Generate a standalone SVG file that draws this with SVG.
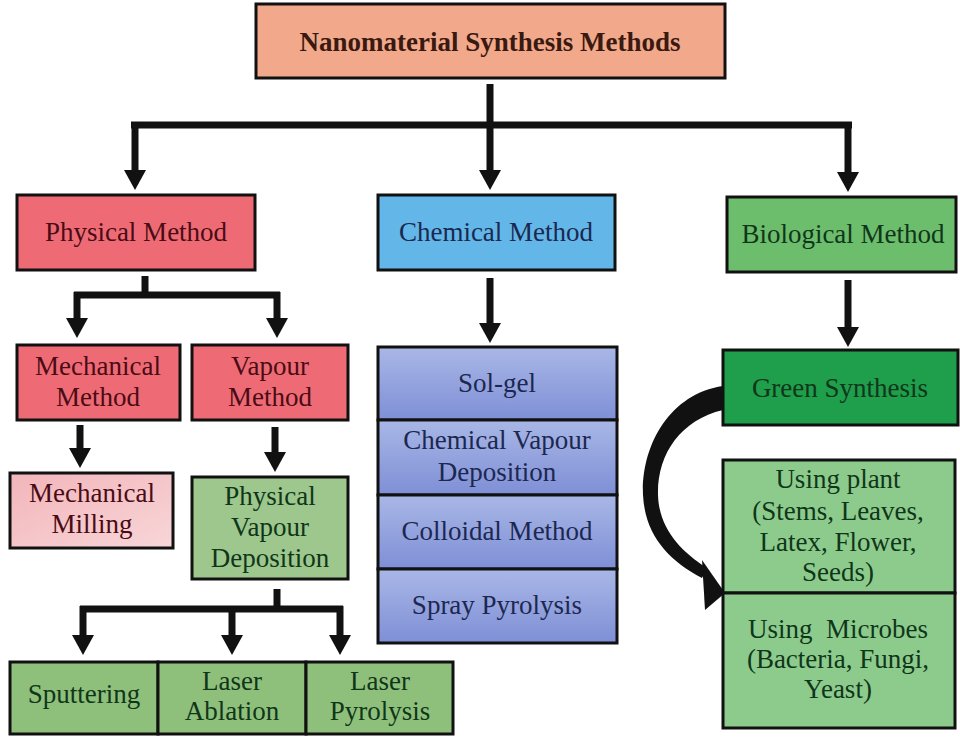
<svg xmlns="http://www.w3.org/2000/svg" width="960" height="738" viewBox="0 0 960 738">
<style>
.box{stroke:#111;stroke-width:3}
.t{font-family:"Liberation Serif","Times New Roman",serif;font-size:27px;text-anchor:middle}
.red{fill:#EE6B76}
.rt{fill:#4a0c14}
.bt{fill:#1c2850}
.gt{fill:#10361a}
.ln{stroke:#111;stroke-width:7;fill:none}
</style>
<defs>
<marker id="ah" markerUnits="userSpaceOnUse" viewBox="0 0 20 22" markerWidth="20" markerHeight="22" refX="0" refY="11" orient="auto">
<path d="M0,0 L20,11 L0,22 Z" fill="#111"/>
</marker>
<linearGradient id="blue" x1="0" y1="0" x2="0" y2="1">
<stop offset="0" stop-color="#A9B7E6"/>
<stop offset="1" stop-color="#7E8FD6"/>
</linearGradient>
<linearGradient id="pink" x1="0" y1="0" x2="1" y2="1">
<stop offset="0" stop-color="#F2B5BA"/>
<stop offset="1" stop-color="#F8D6D8"/>
</linearGradient>
</defs>

<g id="connectors">
<line class="ln" x1="490" y1="84" x2="490" y2="170" marker-end="url(#ah)"/>
<line class="ln" x1="131" y1="125" x2="852" y2="125"/>
<line class="ln" x1="135" y1="122" x2="135" y2="170" marker-end="url(#ah)"/>
<line class="ln" x1="848" y1="122" x2="848" y2="172" marker-end="url(#ah)"/>

<line class="ln" x1="145" y1="276" x2="145" y2="298"/>
<line class="ln" x1="74" y1="295" x2="280" y2="295"/>
<line class="ln" x1="77" y1="292" x2="77" y2="318" marker-end="url(#ah)"/>
<line class="ln" x1="277" y1="292" x2="277" y2="318" marker-end="url(#ah)"/>

<line class="ln" x1="80" y1="425" x2="80" y2="448" marker-end="url(#ah)"/>
<line class="ln" x1="275" y1="427" x2="275" y2="452" marker-end="url(#ah)"/>

<line class="ln" x1="277" y1="589" x2="277" y2="612"/>
<line class="ln" x1="80" y1="609" x2="343" y2="609"/>
<line class="ln" x1="83" y1="606" x2="83" y2="635" marker-end="url(#ah)"/>
<line class="ln" x1="232" y1="606" x2="232" y2="635" marker-end="url(#ah)"/>
<line class="ln" x1="340" y1="606" x2="340" y2="635" marker-end="url(#ah)"/>

<line class="ln" x1="490" y1="278" x2="490" y2="323" marker-end="url(#ah)"/>
<line class="ln" x1="848" y1="280" x2="848" y2="327" marker-end="url(#ah)"/>

<path d="M723,386 C668,394 641,448 643,495 C645,535 668,560 702,578 L707,568 C680,551 659,528 658,495 C657,455 680,420 723,410 Z" fill="#111"/>
<polygon points="702,560 725,593 705,610" fill="#111"/>
</g>

<g id="title">
<rect class="box" x="256" y="4" width="469" height="74" fill="#F2A98B"/>
<text class="t" x="490" y="51" font-weight="bold" font-size="28" fill="#3a1a10">Nanomaterial Synthesis Methods</text>
</g>

<g id="physical">
<rect class="box red" x="17" y="195" width="238" height="75"/>
<text class="t rt" x="136" y="241">Physical Method</text>
</g>

<g id="chemical">
<rect class="box" x="378" y="195" width="237" height="75" fill="#62B7E8"/>
<text class="t bt" x="496" y="241">Chemical Method</text>
</g>

<g id="biological">
<rect class="box" x="727" y="197" width="229" height="75" fill="#6CBD6C"/>
<text class="t gt" x="843" y="243">Biological Method</text>
</g>

<g id="mechanical">
<rect class="box red" x="17" y="345" width="163" height="75"/>
<text class="t rt" x="98" y="375">Mechanical</text>
<text class="t rt" x="98" y="406">Method</text>
</g>

<g id="vapour">
<rect class="box red" x="192" y="345" width="156" height="75"/>
<text class="t rt" x="270" y="375">Vapour</text>
<text class="t rt" x="270" y="406">Method</text>
</g>

<g id="milling">
<rect class="box" x="10" y="473" width="163" height="75" fill="url(#pink)"/>
<text class="t rt" x="92" y="502">Mechanical</text>
<text class="t rt" x="92" y="533">Milling</text>
</g>

<g id="pvd">
<rect class="box" x="192" y="477" width="156" height="102" fill="#9DC78C"/>
<text class="t gt" x="270" y="505">Physical</text>
<text class="t gt" x="270" y="536">Vapour</text>
<text class="t gt" x="270" y="567">Deposition</text>
</g>

<g id="sputtering">
<rect class="box" x="10" y="662" width="148" height="72" fill="#8EC07B"/>
<text class="t gt" x="84" y="703">Sputtering</text>
</g>
<g id="laser-ablation">
<rect class="box" x="158" y="662" width="148" height="72" fill="#8EC07B"/>
<text class="t gt" x="232" y="690">Laser</text>
<text class="t gt" x="232" y="720">Ablation</text>
</g>
<g id="laser-pyrolysis">
<rect class="box" x="306" y="662" width="147" height="72" fill="#8EC07B"/>
<text class="t gt" x="380" y="690">Laser</text>
<text class="t gt" x="380" y="720">Pyrolysis</text>
</g>

<g id="sol-gel">
<rect class="box" x="378" y="347" width="239" height="73" fill="url(#blue)"/>
<text class="t bt" x="497" y="392">Sol-gel</text>
</g>
<g id="cvd">
<rect class="box" x="378" y="420" width="239" height="75" fill="url(#blue)"/>
<text class="t bt" x="497" y="449">Chemical Vapour</text>
<text class="t bt" x="497" y="481">Deposition</text>
</g>
<g id="colloidal">
<rect class="box" x="378" y="495" width="239" height="74" fill="url(#blue)"/>
<text class="t bt" x="497" y="540">Colloidal Method</text>
</g>
<g id="spray">
<rect class="box" x="378" y="569" width="239" height="74" fill="url(#blue)"/>
<text class="t bt" x="497" y="614">Spray Pyrolysis</text>
</g>

<g id="green-synthesis">
<rect class="box" x="723" y="350" width="235" height="75" fill="#1F9E4B"/>
<text class="t gt" x="840" y="397">Green Synthesis</text>
</g>

<g id="plant">
<rect class="box" x="723" y="460" width="232" height="133" fill="#8DCB8D"/>
<text class="t gt" x="838" y="488">Using plant</text>
<text class="t gt" x="838" y="520">(Stems, Leaves,</text>
<text class="t gt" x="838" y="551">Latex, Flower,</text>
<text class="t gt" x="838" y="581">Seeds)</text>
</g>
<g id="microbes">
<rect class="box" x="723" y="593" width="232" height="135" fill="#8DCB8D"/>
<text class="t gt" x="838" y="638" xml:space="preserve">Using  Microbes</text>
<text class="t gt" x="838" y="668">(Bacteria, Fungi,</text>
<text class="t gt" x="838" y="698">Yeast)</text>
</g>
</svg>
